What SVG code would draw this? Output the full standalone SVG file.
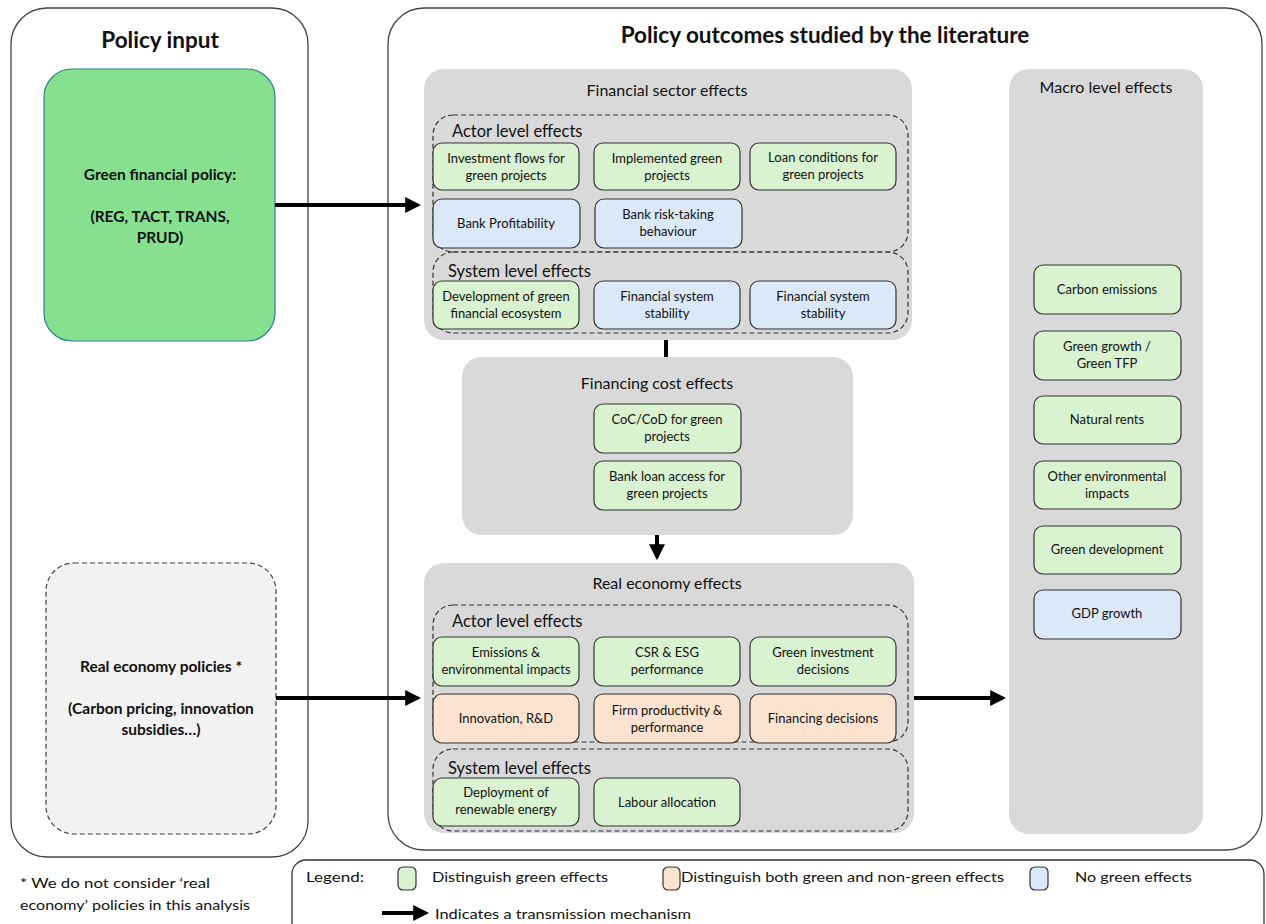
<svg xmlns="http://www.w3.org/2000/svg" width="1266" height="924" viewBox="0 0 1266 924">
<defs>
<marker id="ah" markerWidth="4" markerHeight="4" refX="3.2" refY="2" orient="auto" markerUnits="strokeWidth"><path d="M0,0 L4,2 L0,4 z" fill="#000"/></marker>
<style>
text{font-family:Lato,"Noto Sans","Liberation Sans",sans-serif;fill:#111;text-anchor:middle}
.panel{fill:#fff;stroke:#444;stroke-width:1.3}
.grp{fill:#d9d9d9;stroke:none}
.dash{fill:none;stroke:#333;stroke-width:1.2;stroke-dasharray:5 3}
.g{fill:#d9f2d0;stroke:#333;stroke-width:1.2}
.b{fill:#dae8f7;stroke:#333;stroke-width:1.2}
.o{fill:#fbe3cf;stroke:#333;stroke-width:1.2}
.n{font-size:13px}
.h1{font-size:22.5px;font-weight:bold}
.h2{font-size:16px}
.h3{font-size:16.5px;text-anchor:start}
.pol{font-size:15.5px;font-weight:bold}
.leg{font-size:14px;text-anchor:start}
.conn{stroke:#000;stroke-width:4;fill:none}
</style>
</defs>

<g id="panel-input">
<rect class="panel" x="11" y="8" width="297" height="849" rx="36"/>
<text class="h1" x="160" y="48">Policy input</text>
</g>
<g id="panel-outcomes">
<rect class="panel" x="388" y="8" width="874" height="842" rx="36"/>
<text class="h1" x="825" y="43">Policy outcomes studied by the literature</text>
</g>

<g id="green-financial-policy">
<rect x="44" y="69" width="231" height="272" rx="28" fill="#86e08f" stroke="#2f7f8f" stroke-width="1.2"/>
<text class="pol" x="160" y="180">Green financial policy:</text>
<text class="pol" x="160" y="222">(REG, TACT, TRANS,</text>
<text class="pol" x="160" y="243">PRUD)</text>
</g>
<g id="real-economy-policies">
<rect x="46" y="563" width="230" height="271" rx="28" fill="#f2f2f2" stroke="#444" stroke-width="1.2" stroke-dasharray="5 3"/>
<text class="pol" x="161" y="672" fill="#333">Real economy policies *</text>
<text class="pol" x="161" y="714">(Carbon pricing, innovation</text>
<text class="pol" x="161" y="735">subsidies…)</text>
</g>

<g id="financial-sector">
<rect class="grp" x="424" y="69" width="488" height="271" rx="20"/>
<text class="h2" x="667" y="96">Financial sector effects</text>
<rect class="dash" x="433" y="115" width="475" height="137" rx="20"/>
<text class="h3" x="452" y="137">Actor level effects</text>
<rect class="dash" x="433" y="252" width="475" height="81" rx="20"/>
<text class="h3" x="448" y="277">System level effects</text>
</g>
<g id="fs-investment-flows"><rect class="g" x="433" y="143" width="146" height="47" rx="9"/><text class="n" x="506" y="163">Investment flows for</text><text class="n" x="506" y="180">green projects</text></g>
<g id="fs-implemented"><rect class="g" x="594" y="143" width="146" height="47" rx="9"/><text class="n" x="667" y="163">Implemented green</text><text class="n" x="667" y="180">projects</text></g>
<g id="fs-loan-conditions"><rect class="g" x="750" y="143" width="146" height="47" rx="9"/><text class="n" x="823" y="162">Loan conditions for</text><text class="n" x="823" y="179">green projects</text></g>
<g id="fs-bank-profitability"><rect class="b" x="433" y="199" width="147" height="49" rx="9"/><text class="n" x="506" y="228">Bank Profitability</text></g>
<g id="fs-bank-risk"><rect class="b" x="595" y="199" width="147" height="49" rx="9"/><text class="n" x="668" y="219">Bank risk-taking</text><text class="n" x="668" y="236">behaviour</text></g>
<g id="fs-green-ecosystem"><rect class="g" x="433" y="281" width="146" height="48" rx="9"/><text class="n" x="506" y="301">Development of green</text><text class="n" x="506" y="318">financial ecosystem</text></g>
<g id="fs-stability-1"><rect class="b" x="594" y="281" width="146" height="48" rx="9"/><text class="n" x="667" y="301">Financial system</text><text class="n" x="667" y="318">stability</text></g>
<g id="fs-stability-2"><rect class="b" x="750" y="281" width="146" height="48" rx="9"/><text class="n" x="823" y="301">Financial system</text><text class="n" x="823" y="318">stability</text></g>

<g id="financing-cost">
<rect class="grp" x="462" y="357" width="391" height="178" rx="20"/>
<text class="h2" x="657" y="389">Financing cost effects</text>
</g>
<g id="fc-coc"><rect class="g" x="594" y="404" width="147" height="49" rx="9"/><text class="n" x="667" y="424">CoC/CoD for green</text><text class="n" x="667" y="441">projects</text></g>
<g id="fc-loan-access"><rect class="g" x="594" y="461" width="147" height="49" rx="9"/><text class="n" x="667" y="481">Bank loan access for</text><text class="n" x="667" y="498">green projects</text></g>

<g id="real-economy">
<rect class="grp" x="424" y="563" width="490" height="270" rx="20"/>
<text class="h2" x="667" y="589">Real economy effects</text>
<rect class="dash" x="433" y="605" width="475" height="137" rx="20"/>
<text class="h3" x="452" y="627">Actor level effects</text>
<rect class="dash" x="433" y="749" width="475" height="82" rx="20"/>
<text class="h3" x="448" y="774">System level effects</text>
</g>
<g id="re-emissions"><rect class="g" x="433" y="637" width="146" height="49" rx="9"/><text class="n" x="506" y="657">Emissions &amp;</text><text class="n" x="506" y="674">environmental impacts</text></g>
<g id="re-csr"><rect class="g" x="594" y="637" width="146" height="49" rx="9"/><text class="n" x="667" y="657">CSR &amp; ESG</text><text class="n" x="667" y="674">performance</text></g>
<g id="re-green-investment"><rect class="g" x="750" y="637" width="146" height="49" rx="9"/><text class="n" x="823" y="657">Green investment</text><text class="n" x="823" y="674">decisions</text></g>
<g id="re-innovation"><rect class="o" x="433" y="694" width="146" height="49" rx="9"/><text class="n" x="506" y="723">Innovation, R&amp;D</text></g>
<g id="re-firm-productivity"><rect class="o" x="594" y="694" width="146" height="49" rx="9"/><text class="n" x="667" y="715">Firm productivity &amp;</text><text class="n" x="667" y="732">performance</text></g>
<g id="re-financing-decisions"><rect class="o" x="750" y="694" width="146" height="49" rx="9"/><text class="n" x="823" y="723">Financing decisions</text></g>
<g id="re-renewables"><rect class="g" x="433" y="778" width="146" height="48" rx="9"/><text class="n" x="506" y="797">Deployment of</text><text class="n" x="506" y="814">renewable energy</text></g>
<g id="re-labour"><rect class="g" x="594" y="778" width="146" height="48" rx="9"/><text class="n" x="667" y="807">Labour allocation</text></g>

<g id="macro">
<rect class="grp" x="1009" y="69" width="194" height="765" rx="20"/>
<text class="h2" x="1106" y="93">Macro level effects</text>
</g>
<g id="m-carbon"><rect class="g" x="1034" y="265" width="147" height="49" rx="9"/><text class="n" x="1107" y="294">Carbon emissions</text></g>
<g id="m-green-growth"><rect class="g" x="1034" y="331" width="147" height="49" rx="9"/><text class="n" x="1107" y="351">Green growth /</text><text class="n" x="1107" y="368">Green TFP</text></g>
<g id="m-natural-rents"><rect class="g" x="1034" y="396" width="147" height="48" rx="9"/><text class="n" x="1107" y="424">Natural rents</text></g>
<g id="m-other-env"><rect class="g" x="1034" y="461" width="147" height="48" rx="9"/><text class="n" x="1107" y="481">Other environmental</text><text class="n" x="1107" y="498">impacts</text></g>
<g id="m-green-dev"><rect class="g" x="1034" y="526" width="147" height="48" rx="9"/><text class="n" x="1107" y="554">Green development</text></g>
<g id="m-gdp"><rect class="b" x="1034" y="590" width="147" height="49" rx="9"/><text class="n" x="1107" y="618">GDP growth</text></g>

<g id="connectors">
<line class="conn" x1="275" y1="205" x2="418" y2="205" marker-end="url(#ah)"/>
<line class="conn" x1="276" y1="698" x2="418" y2="698" marker-end="url(#ah)"/>
<line class="conn" x1="666" y1="340" x2="666" y2="357"/>
<line class="conn" x1="657" y1="535" x2="657" y2="557" marker-end="url(#ah)"/>
<line class="conn" x1="914" y1="698" x2="1003" y2="698" marker-end="url(#ah)"/>
</g>

<g id="footnote">
<text class="leg" x="20" y="888" textLength="190" lengthAdjust="spacingAndGlyphs">* We do not consider ‘real</text>
<text class="leg" x="20" y="910" textLength="230" lengthAdjust="spacingAndGlyphs">economy’ policies in this analysis</text>
</g>

<g id="legend">
<rect x="292" y="860" width="972" height="80" rx="14" fill="#fff" stroke="#333" stroke-width="1.3"/>
<text class="leg" x="306" y="882" textLength="58" lengthAdjust="spacingAndGlyphs">Legend:</text>
<rect class="g" x="398" y="867" width="18" height="23" rx="5"/>
<text class="leg" x="432" y="882" textLength="176" lengthAdjust="spacingAndGlyphs">Distinguish green effects</text>
<rect class="o" x="663" y="867" width="17" height="23" rx="5"/>
<text class="leg" x="681" y="882" textLength="323" lengthAdjust="spacingAndGlyphs">Distinguish both green and non-green effects</text>
<rect class="b" x="1030" y="867" width="18" height="23" rx="5"/>
<text class="leg" x="1075" y="882" textLength="117" lengthAdjust="spacingAndGlyphs">No green effects</text>
<line class="conn" x1="382" y1="913" x2="426" y2="913" marker-end="url(#ah)"/>
<text class="leg" x="435" y="919" textLength="256" lengthAdjust="spacingAndGlyphs">Indicates a transmission mechanism</text>
</g>
</svg>
